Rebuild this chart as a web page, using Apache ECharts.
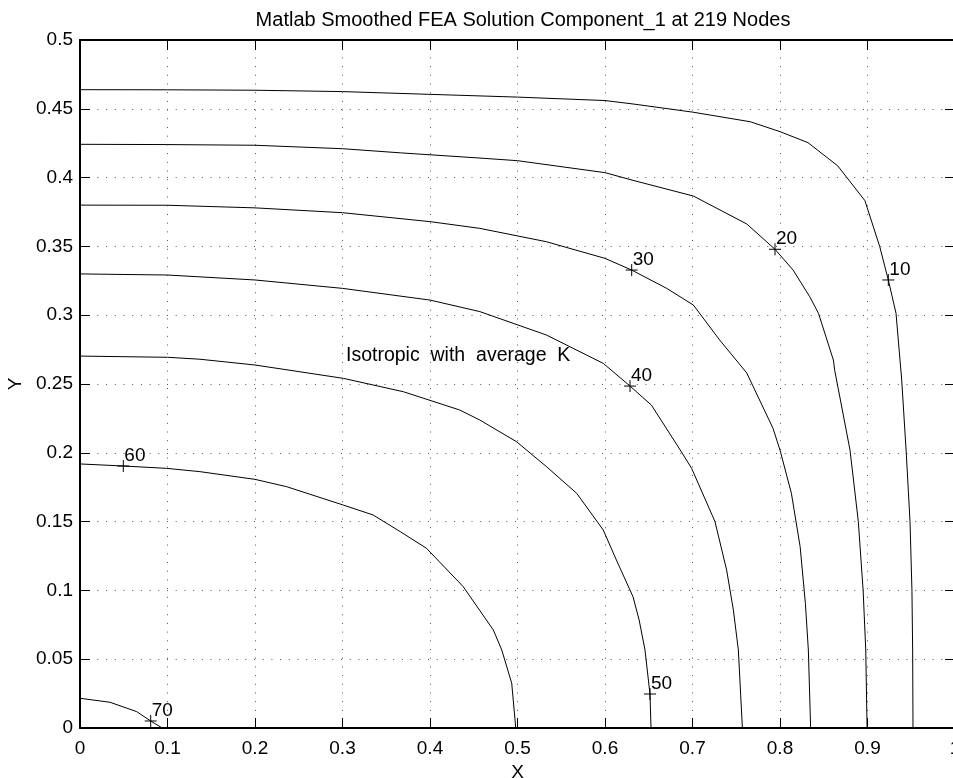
<!DOCTYPE html>
<html>
<head>
<meta charset="utf-8">
<title>Matlab Smoothed FEA Solution</title>
<script src="https://cdn.jsdelivr.net/npm/echarts@6/dist/echarts.min.js"></script>
<style>
    html, body { margin: 0; padding: 0; background: #fff; }
    #chart { width: 953px; height: 778px; }
</style>
</head>
<body>
<div id="chart"></div>
<script>
// contour polylines [x, y]
let level10 = [[0, 0.4639], [0.1, 0.4638], [0.2, 0.4635], [0.3, 0.4625], [0.4, 0.4605], [0.5, 0.4585],
    [0.6, 0.456], [0.632, 0.4535], [0.70, 0.4476], [0.766, 0.4406], [0.8, 0.4334], [0.832, 0.4254],
    [0.866, 0.4085], [0.897, 0.3833], [0.914, 0.3498], [0.9238, 0.3256], [0.9326, 0.3014], [0.9391, 0.2529],
    [0.9443, 0.2], [0.9486, 0.15], [0.9508, 0.1], [0.9516, 0.0567], [0.952, 0]];
let level20 = [[0, 0.4242], [0.1, 0.424], [0.2, 0.4235], [0.3, 0.421], [0.366, 0.418], [0.457, 0.4142],
    [0.5, 0.4123], [0.6, 0.4036], [0.632, 0.398], [0.701, 0.3866], [0.762, 0.3663], [0.7943, 0.3479],
    [0.815, 0.3328], [0.834, 0.3134], [0.844, 0.3013], [0.861, 0.2674], [0.8625, 0.26], [0.88, 0.202],
    [0.8895, 0.15], [0.895, 0.1], [0.898, 0.0567], [0.8995, 0]];
let level30 = [[0, 0.38], [0.1, 0.3799], [0.2, 0.378], [0.3, 0.3745], [0.4, 0.368], [0.457, 0.3631],
    [0.533, 0.3534], [0.6, 0.3413], [0.6305, 0.3328], [0.6705, 0.3195], [0.701, 0.3074], [0.731, 0.282],
    [0.762, 0.258], [0.792, 0.2178], [0.8, 0.202], [0.813, 0.1706], [0.823, 0.1318], [0.829, 0.0906],
    [0.8324, 0.0567], [0.835, 0]];
let level40 = [[0, 0.33], [0.1, 0.3292], [0.2, 0.3256], [0.3, 0.3195], [0.4, 0.311], [0.457, 0.3026],
    [0.533, 0.2856], [0.598, 0.265], [0.6286, 0.2485], [0.653, 0.2347], [0.686, 0.202], [0.699, 0.1887],
    [0.7257, 0.15], [0.739, 0.1148], [0.7467, 0.0858], [0.7524, 0.0567], [0.757, 0]];
let level50 = [[0, 0.2703], [0.1, 0.2694], [0.137, 0.268], [0.2, 0.2638], [0.301, 0.2541], [0.3695, 0.2444],
    [0.434, 0.2311], [0.457, 0.2238], [0.499, 0.208], [0.533, 0.19], [0.5676, 0.1706], [0.598, 0.1439],
    [0.613, 0.1221], [0.632, 0.0954], [0.639, 0.0785], [0.6457, 0.0567], [0.6514, 0.0247], [0.6526, 0]];
let level60 = [[0, 0.1919], [0.0495, 0.1904], [0.099, 0.1887], [0.137, 0.1863], [0.2, 0.1807], [0.236, 0.1754],
    [0.301, 0.162], [0.335, 0.1548], [0.366, 0.1427], [0.396, 0.1306], [0.438, 0.1027], [0.4724, 0.0712],
    [0.482, 0.0567], [0.4934, 0.0325], [0.498, 0]];
let level70 = [[0, 0.0216], [0.0343, 0.0187], [0.0648, 0.0119], [0.0808, 0.0051], [0.094, 0]];

// clabel positions and their texts
let labelPoints = [[0.9238, 0.3256], [0.7943, 0.3479], [0.6305, 0.3328], [0.6286, 0.2485],
    [0.6514, 0.0247], [0.0495, 0.1904], [0.0808, 0.0051]];
let labelTexts = ['10', '20', '30', '40', '50', '60', '70'];

let noteText = 'Isotropic  with  average  K';
let notePoint = [0.304, 0.2707];

let fontFamily = '"Liberation Sans", Arial, Helvetica, sans-serif';

let chart = echarts.init(document.getElementById('chart'), null, {renderer: 'canvas'});

let contours = [level10, level20, level30, level40, level50, level60, level70];
let series = contours.map(function (line) {
    return {
        type: 'line',
        data: line,
        showSymbol: false,
        smooth: false,
        silent: true,
        lineStyle: {color: '#000', width: 1}
    };
});

series.push({
    type: 'scatter',
    data: labelPoints.map(function (p, i) {
        return {value: p, name: labelTexts[i]};
    }),
    symbol: 'path://M0,6L12,6M6,0L6,12',
    symbolSize: 12,
    itemStyle: {color: 'none', borderColor: '#000', borderWidth: 1, opacity: 1},
    label: {
        show: true,
        position: 'inside',
        align: 'left',
        verticalAlign: 'middle',
        offset: [1, -10.5],
        formatter: '{b}',
        color: '#000',
        fontSize: 19,
        fontFamily: fontFamily
    },
    silent: true
});

series.push({
    type: 'scatter',
    data: [notePoint],
    symbolSize: 1,
    itemStyle: {color: 'transparent', opacity: 1},
    label: {
        show: true,
        position: 'inside',
        align: 'left',
        verticalAlign: 'middle',
        formatter: noteText,
        color: '#000',
        fontSize: 19.5,
        fontFamily: fontFamily
    },
    silent: true
});

let tickFmt = function (v) {
    return String(parseFloat(v.toFixed(2)));
};
let gridDots = {show: true, lineStyle: {color: '#555', width: 1, type: [1, 7.7]}};

let option = {
    animation: false,
    backgroundColor: '#fff',
    textStyle: {fontFamily: fontFamily},
    title: {
        text: 'Matlab Smoothed FEA Solution Component_1 at 219 Nodes',
        left: 518,
        textAlign: 'center',
        top: 5,
        textStyle: {fontSize: 20, fontWeight: 'normal', color: '#000', fontFamily: fontFamily}
    },
    grid: {left: 80, right: -2, top: 40, bottom: 50, containLabel: false, outerBoundsMode: 'none'},
    xAxis: [{
        type: 'value', position: 'bottom', min: 0, max: 1, interval: 0.1,
        name: 'X', nameLocation: 'middle', nameGap: 30,
        nameTextStyle: {fontSize: 19, color: '#000', fontFamily: fontFamily},
        axisLine: {show: true, onZero: false, lineStyle: {color: '#000', width: 2}},
        axisTick: {show: true, inside: true, length: 10, lineStyle: {color: '#000', width: 1}},
        axisLabel: {show: true, margin: 11, fontSize: 19, color: '#000', formatter: tickFmt, fontFamily: fontFamily},
        splitLine: gridDots
    }, {
        type: 'value', position: 'top', min: 0, max: 1, interval: 0.1,
        axisLine: {show: true, onZero: false, lineStyle: {color: '#000', width: 2}},
        axisTick: {show: true, inside: true, length: 10, lineStyle: {color: '#000', width: 1}},
        axisLabel: {show: false},
        splitLine: {show: false}
    }],
    yAxis: [{
        type: 'value', position: 'left', min: 0, max: 0.5, interval: 0.05,
        name: 'Y', nameLocation: 'middle', nameGap: 51, nameRotate: 90,
        nameTextStyle: {fontSize: 19, color: '#000', fontFamily: fontFamily},
        axisLine: {show: true, onZero: false, lineStyle: {color: '#000', width: 2}},
        axisTick: {show: true, inside: true, length: 10, lineStyle: {color: '#000', width: 1}},
        axisLabel: {show: true, margin: 7, fontSize: 19, color: '#000', formatter: tickFmt, fontFamily: fontFamily},
        splitLine: gridDots
    }, {
        type: 'value', position: 'right', min: 0, max: 0.5, interval: 0.05,
        axisLine: {show: true, onZero: false, lineStyle: {color: '#000', width: 2}},
        axisTick: {show: true, inside: true, length: 10, lineStyle: {color: '#000', width: 1}},
        axisLabel: {show: false},
        splitLine: {show: false}
    }],
    tooltip: {show: false},
    series: series
};

chart.setOption(option);
</script>
</body>
</html>
